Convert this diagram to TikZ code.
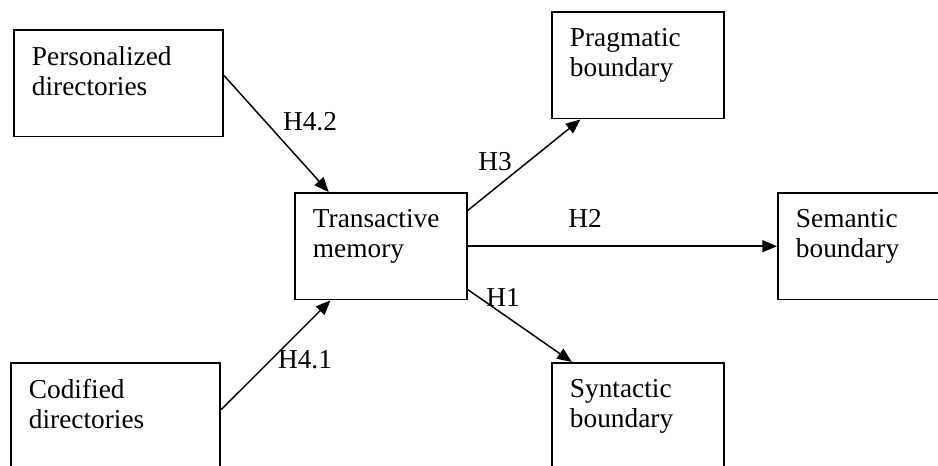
\documentclass[tikz,border=0pt]{standalone}
\usepackage{fontspec}
\setmainfont{Liberation Serif}
\usetikzlibrary{arrows.meta,positioning,calc}

\tikzset{
  box/.style={draw, line width=1.3pt, anchor=north west, inner sep=0pt,
    minimum width=129pt, minimum height=80pt},
  wide/.style={minimum width=157pt},
  txt/.style={anchor=north west, align=left, inner sep=0pt, xshift=14pt, yshift=-13pt},
  hyp/.style={-{Triangle[length=11pt,width=9pt]}, line width=1.1pt},
}

\begin{document}
\begin{tikzpicture}[x=0.75pt, y=-0.75pt, font=\fontsize{20.5}{22.5}\selectfont]
    \useasboundingbox (0,0) rectangle (938,466);

    % Directories
    \node[box, wide] (pers) at (13,29) {};
    \node[txt] (pers-t) at (pers.north west) {Personalized\\directories};
    \node[box, wide] (cod) at (10,362) {};
    \node[txt] (cod-t) at (cod.north west) {Codified\\directories};

    % Transactive memory
    \node[box] (trans) at (294,192) {};
    \node[txt] (trans-t) at (trans.north west) {Transactive\\memory};

    % Boundaries
    \node[box] (prag) at (551,11) {};
    \node[txt] (prag-t) at (prag.north west) {Pragmatic\\boundary};
    \node[box, minimum width=150pt] (sem) at (777,192) {};
    \node[txt] (sem-t) at (sem.north west) {Semantic\\boundary};
    \node[box] (syn) at (551,362) {};
    \node[txt] (syn-t) at (syn.north west) {Syntactic\\boundary};

    % Hypotheses
    \draw[hyp] ($(pers.north east)!0.43!(pers.south east)$) -- ($(trans.north west)!0.2!(trans.north east)$);
    \draw[hyp] ($(cod.north east)!0.44!(cod.south east)$) -- ($(trans.south west)!0.21!(trans.south east)$);
    \draw[hyp] ($(trans.north east)!0.17!(trans.south east)$) -- ($(prag.south west)!0.17!(prag.south east)$);
    \draw[hyp] (trans.east) -- (sem.west);
    \draw[hyp] ($(trans.north east)!0.9!(trans.south east)$) -- ($(syn.north west)!0.12!(syn.north east)$);

    \node (h42) at (310,122) {H4.2};
    \node (h41) at (305,360) {H4.1};
    \node (h3) at (495,162) {H3};
    \node (h2) at (585,218) {H2};
    \node (h1) at (503,297) {H1};
\end{tikzpicture}
\end{document}
